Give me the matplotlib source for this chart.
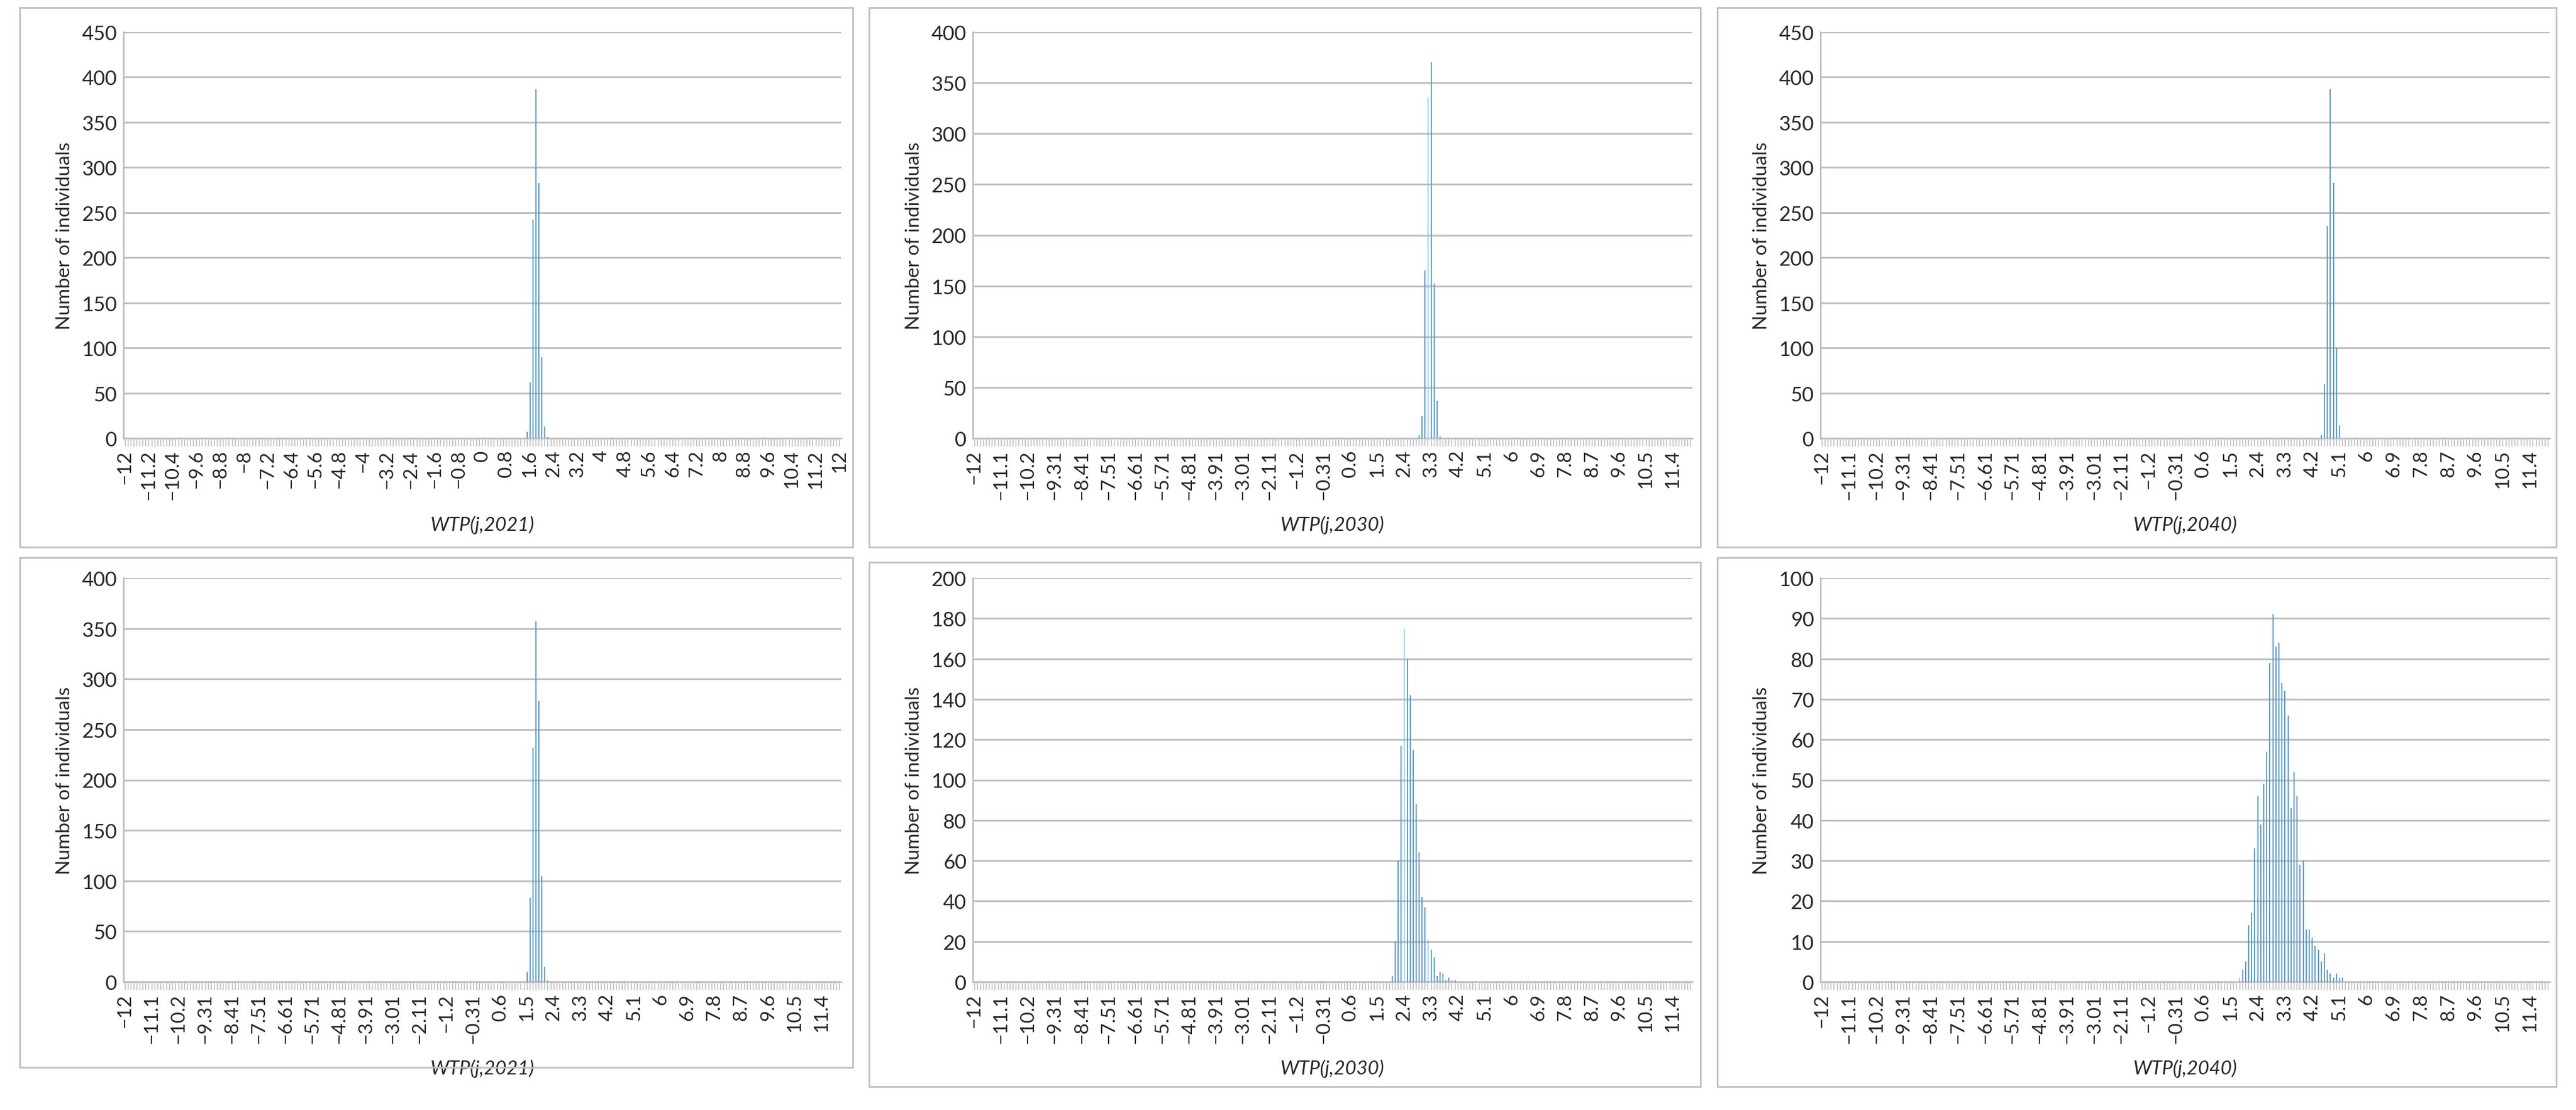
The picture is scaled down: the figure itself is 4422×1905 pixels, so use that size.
"""Histograms of WTP(j, year) across individuals, six panels."""

import matplotlib.pyplot as plt
import numpy as np
from matplotlib.patches import Rectangle

plt.rcParams["font.family"] = ["Lato", "DejaVu Sans"]

# category axis: -12 .. 12 in steps of 0.1
bin_centers = np.round(np.arange(-120, 121) / 10.0, 1)

labels_step8 = ["\u221212", "\u221211.2", "\u221210.4", "\u22129.6", "\u22128.8", "\u22128",
                "\u22127.2", "\u22126.4", "\u22125.6", "\u22124.8", "\u22124", "\u22123.2",
                "\u22122.4", "\u22121.6", "\u22120.8", "0", "0.8", "1.6", "2.4", "3.2", "4",
                "4.8", "5.6", "6.4", "7.2", "8", "8.8", "9.6", "10.4", "11.2", "12"]
labels_step9 = ["\u221212", "\u221211.1", "\u221210.2", "\u22129.31", "\u22128.41", "\u22127.51",
                "\u22126.61", "\u22125.71", "\u22124.81", "\u22123.91", "\u22123.01", "\u22122.11",
                "\u22121.2", "\u22120.31", "0.6", "1.5", "2.4", "3.3", "4.2", "5.1", "6", "6.9",
                "7.8", "8.7", "9.6", "10.5", "11.4"]

# counts per bin, starting at the given bin value
top2021_start, top2021 = 1.5, [7, 62, 242, 387, 283, 90, 13, 1]
top2030_start, top2030 = 2.9, [3, 22, 165, 335, 370, 152, 37, 2]
top2040_start, top2040 = 4.5, [3, 60, 235, 387, 283, 100, 14]
bot2021_start, bot2021 = 1.5, [10, 83, 232, 357, 278, 105, 15, 1]
bot2030_start, bot2030 = 2.0, [3, 20, 60, 117, 175, 160, 142, 115, 88, 64, 42, 37,
                               21, 16, 12, 3, 5, 4, 1, 2, 1, 1]
bot2040_start, bot2040 = 1.8, [1, 3, 5, 14, 17, 33, 46, 39, 49, 57, 79, 91, 83, 84, 74,
                               72, 66, 43, 52, 46, 29, 30, 13, 13, 11, 9, 8, 5, 7, 3,
                               2, 1, 2, 1, 1]

panels = [
    (top2021_start, top2021, labels_step8, 8, 450, "WTP(j,2021)"),
    (top2030_start, top2030, labels_step9, 9, 400, "WTP(j,2030)"),
    (top2040_start, top2040, labels_step9, 9, 450, "WTP(j,2040)"),
    (bot2021_start, bot2021, labels_step9, 9, 400, "WTP(j,2021)"),
    (bot2030_start, bot2030, labels_step9, 9, 200, "WTP(j,2030)"),
    (bot2040_start, bot2040, labels_step9, 9, 100, "WTP(j,2040)"),
]

W, H = 4422, 1906
fig = plt.figure(figsize=(W / 100, H / 100), dpi=100)

# boxes and axes rectangles in pixel coords (x0, y0_top, x1, y1_bottom)
boxes = [(34, 14, 1464, 940), (1492, 14, 2919, 940), (2948, 14, 4388, 940),
         (34, 958, 1464, 1833), (1492, 966, 2919, 1866), (2948, 958, 4388, 1866)]
axes_px = [(212, 56, 1444, 753), (1670, 56, 2905, 753), (3125, 56, 4377, 753),
           (212, 993, 1444, 1686), (1670, 993, 2905, 1686), (3125, 993, 4377, 1686)]

for (bx0, by0, bx1, by1) in boxes:
    fig.patches.append(Rectangle((bx0 / W, 1 - by1 / H), (bx1 - bx0) / W, (by1 - by0) / H,
                                 transform=fig.transFigure, fill=False,
                                 edgecolor="#BFBFBF", linewidth=2))

idx = np.arange(len(bin_centers))
for (start, counts, tlabels, step, ymax, xlabel), (x0, y0, x1, y1) in zip(panels, axes_px):
    ax = fig.add_axes([x0 / W, 1 - y1 / H, (x1 - x0) / W, (y1 - y0) / H])
    values = np.zeros(len(bin_centers))
    first = int(round((start + 12) * 10))
    values[first:first + len(counts)] = counts
    ax.bar(idx, values, width=0.38, color="#5B9BD5", zorder=3)

    ax.set_xlim(-0.5, len(idx) - 0.5)
    ax.set_ylim(0, ymax)
    ystep = 50 if ymax > 200 else (20 if ymax == 200 else 10)
    ax.set_yticks(np.arange(0, ymax + 1, ystep))
    ax.yaxis.grid(True, color="#BFBFBF", linewidth=2.2, zorder=0)
    ax.set_axisbelow(True)

    ax.set_xticks(idx, minor=True)
    ax.set_xticks(idx[::step])
    ax.set_xticklabels(tlabels, rotation=90)
    ax.tick_params(axis="x", which="both", length=10, width=1.2, color="#BFBFBF")
    ax.tick_params(axis="x", which="major", labelsize=24, pad=4, labelcolor="#262626")
    ax.tick_params(axis="y", length=0, labelsize=25, pad=8, labelcolor="#262626")

    for side in ("top", "right"):
        ax.spines[side].set_visible(False)
    ax.spines["left"].set_color("#BFBFBF")
    ax.spines["bottom"].set_color("#BFBFBF")
    ax.spines["left"].set_linewidth(2)
    ax.spines["bottom"].set_linewidth(2)

    ax.set_ylabel("Number of individuals", fontsize=24, labelpad=10, color="#262626")
    ax.set_xlabel(xlabel, fontsize=24, style="italic", labelpad=20, color="#262626")

fig.savefig("out.png", dpi=100)
